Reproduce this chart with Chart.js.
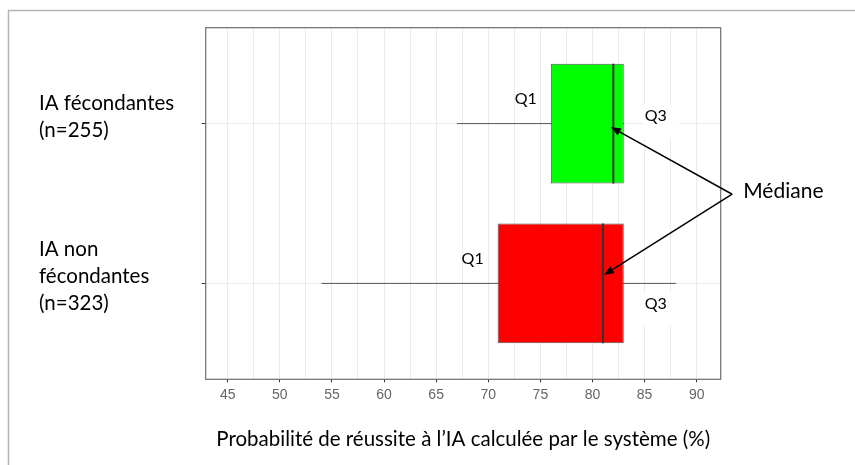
<!DOCTYPE html>
<html>
<head>
<meta charset="utf-8">
<script src="https://cdn.jsdelivr.net/npm/chart.js@4/dist/chart.umd.min.js"></script>
<style>
html,body{margin:0;padding:0;background:#fff;overflow:hidden}
#wrap{width:855px;height:465px;position:relative}
</style>
</head>
<body>
<div id="wrap"><canvas id="c"></canvas></div>
<script>
// ---- data ----
const categories = [['IA fécondantes', '(n=255)'], ['IA non', 'fécondantes', '(n=323)']];
const groupPos = [1, 2];
const whiskerMin = [67, 54];
const q1Values = [76, 70.9];
const medianValues = [82, 81];
const q3Values = [83, 83];
const whiskerMax = [83, 88];
const boxColors = ['#00ff00', '#ff0000'];
const xTickValues = [45, 50, 55, 60, 65, 70, 75, 80, 85, 90];
const xTickLabels = ['45', '50', '55', '60', '65', '70', '75', '80', '85', '90'];
const xAxisTitle = 'Probabilité de réussite à l’IA calculée par le système (%)';
const labelQ1 = 'Q1';
const labelQ3 = 'Q3';
const labelMedian = 'Médiane';

// ---- chart ----
const HALF = 0.375;
const gridValues = [];
xTickValues.forEach((v, i) => {
  gridValues.push(v);
  if (i < xTickValues.length - 1) gridValues.push((v + xTickValues[i + 1]) / 2);
});

const datasets = [];
datasets.push({
  type: 'bar',
  data: groupPos.map((p, i) => ({ x: [q1Values[i], q3Values[i]], y: p })),
  backgroundColor: boxColors,
  borderColor: '#555555',
  borderWidth: 1,
  borderSkipped: false,
  categoryPercentage: 0.75,
  barPercentage: 1,
  order: 2
});
groupPos.forEach((p, i) => {
  datasets.push({
    type: 'line',
    data: [{ x: whiskerMin[i], y: p }, { x: whiskerMax[i], y: p }],
    borderColor: '#555555', borderWidth: 1, pointRadius: 0, fill: false, tension: 0, order: 3
  });
  datasets.push({
    type: 'line',
    data: [{ x: medianValues[i], y: p - HALF }, { x: medianValues[i], y: p + HALF }],
    borderColor: '#333333', borderWidth: 2, pointRadius: 0, fill: false, tension: 0, order: 1
  });
});

const q3OffsetY = [-8, 20];

function arrow(ctx, x1, y1, x2, y2) {
  const ang = Math.atan2(y2 - y1, x2 - x1);
  const L = 10, W = 4;
  const bx = x2 - L * Math.cos(ang), by = y2 - L * Math.sin(ang);
  ctx.beginPath();
  ctx.moveTo(x1, y1);
  ctx.lineTo(bx, by);
  ctx.stroke();
  ctx.beginPath();
  ctx.moveTo(x2, y2);
  ctx.lineTo(bx + W * Math.sin(ang), by - W * Math.cos(ang));
  ctx.lineTo(bx - W * Math.sin(ang), by + W * Math.cos(ang));
  ctx.closePath();
  ctx.fill();
}

const annot = {
  id: 'annot',
  beforeDraw(chart) {
    const ctx = chart.ctx;
    ctx.save();
    ctx.strokeStyle = '#b4b4b4';
    ctx.lineWidth = 1.5;
    ctx.beginPath();
    ctx.moveTo(8.5, 465);
    ctx.lineTo(8.5, 10.5);
    ctx.lineTo(855, 10.5);
    ctx.stroke();
    ctx.restore();
  },
  beforeDatasetsDraw(chart) {
    const ctx = chart.ctx;
    const xs = chart.scales.x, ys = chart.scales.y;
    ctx.save();
    ctx.fillStyle = '#ffffff';
    groupPos.forEach((p, i) => {
      const cx = xs.getPixelForValue(q3Values[i]) + 32;
      const cy = ys.getPixelForValue(p) + q3OffsetY[i];
      ctx.fillRect(cx - 13, cy - 11, 36, 34);
    });
    ctx.restore();
  },
  afterDraw(chart) {
    const ctx = chart.ctx;
    const xs = chart.scales.x, ys = chart.scales.y;
    const a = chart.chartArea;
    ctx.save();
    // panel border
    ctx.strokeStyle = '#6e6e6e';
    ctx.lineWidth = 1.2;
    ctx.strokeRect(a.left, a.top, a.right - a.left, a.bottom - a.top);
    // Q labels
    ctx.fillStyle = '#000';
    ctx.font = '16px Lato';
    ctx.textAlign = 'center';
    ctx.textBaseline = 'middle';
    groupPos.forEach((p, i) => {
      const yp = ys.getPixelForValue(p);
      ctx.fillText(labelQ1, xs.getPixelForValue(q1Values[i]) - 25, yp - 25);
      ctx.fillText(labelQ3, xs.getPixelForValue(q3Values[i]) + 32, yp + q3OffsetY[i]);
    });
    // Médiane arrows
    const vx = xs.getPixelForValue(93.4), vy = ys.getPixelForValue(1.442);
    ctx.strokeStyle = '#000';
    ctx.lineWidth = 1.5;
    arrow(ctx, vx, vy, xs.getPixelForValue(medianValues[0]) - 2.5, ys.getPixelForValue(groupPos[0]) + 3.5);
    arrow(ctx, vx, vy, xs.getPixelForValue(medianValues[1]) + 1, ys.getPixelForValue(groupPos[1]) - 8.5);
    ctx.font = '21px Lato';
    ctx.textAlign = 'left';
    ctx.fillText(labelMedian, vx + 11, vy - 3);
    ctx.restore();
  }
};

function build() {
  new Chart(document.getElementById('c'), {
    type: 'bar',
    data: { datasets },
    plugins: [annot],
    options: {
      indexAxis: 'y',
      responsive: true,
      maintainAspectRatio: false,
      animation: false,
      events: [],
      layout: { padding: { left: 39, top: 27.7, right: 134.3, bottom: 0 } },
      plugins: { legend: { display: false }, tooltip: { enabled: false } },
      scales: {
        x: {
          type: 'linear',
          min: 42.89,
          max: 92.30,
          offset: false,
          afterBuildTicks: s => { s.ticks = gridValues.map(v => ({ value: v })); },
          afterFit: s => { s.height = 465 - 379.3; s.paddingLeft = 0; s.paddingRight = 0; },
          grid: {
            color: '#ebebeb',
            lineWidth: 1,
            offset: false,
            drawTicks: true,
            tickLength: 3,
            tickColor: c => (c.tick && xTickValues.indexOf(c.tick.value) >= 0) ? '#333333' : 'rgba(0,0,0,0)'
          },
          border: { display: false },
          ticks: {
            autoSkip: false,
            maxRotation: 0,
            padding: 4,
            color: '#666666',
            font: { family: 'Liberation Sans', size: 14 },
            callback: v => { const i = xTickValues.indexOf(v); return i >= 0 ? xTickLabels[i] : ''; }
          },
          title: {
            display: true,
            text: xAxisTitle,
            color: '#000',
            font: { family: 'Lato', size: 20.5 },
            padding: { top: 0, bottom: 13 }
          }
        },
        y: {
          type: 'linear',
          min: 0.4,
          max: 2.6,
          reverse: true,
          offset: false,
          afterBuildTicks: s => { s.ticks = groupPos.map(v => ({ value: v })); },
          afterFit: s => { s.width = 205.7 - 39; s.paddingTop = 0; s.paddingBottom = 0; },
          grid: { color: '#ebebeb', lineWidth: 1, offset: false, tickLength: 4, tickColor: '#333333' },
          border: { display: false },
          ticks: {
            autoSkip: false,
            crossAlign: 'far',
            labelOffset: -7,
            color: '#000',
            font: { family: 'Lato', size: 20.5, lineHeight: 1.33 },
            callback: v => { const i = groupPos.indexOf(v); return i >= 0 ? categories[i] : ''; }
          }
        }
      }
    }
  });
}

if (document.fonts && document.fonts.load) {
  Promise.all([
    document.fonts.load('20px Lato'),
    document.fonts.load('14px "Liberation Sans"')
  ]).then(build, build);
} else {
  build();
}
</script>
</body>
</html>
